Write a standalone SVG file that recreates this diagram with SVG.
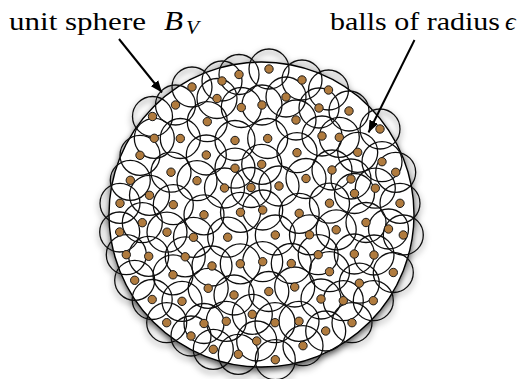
<svg xmlns="http://www.w3.org/2000/svg" width="521" height="379" viewBox="0 0 521 379">
<defs>
<filter id="sh" x="-15%" y="-15%" width="130%" height="130%">
<feGaussianBlur in="SourceAlpha" stdDeviation="3"/>
<feOffset dx="0" dy="3" result="b"/>
<feFlood flood-color="#000" flood-opacity="0.7"/>
<feComposite in2="b" operator="in" result="s"/>
<feMerge><feMergeNode in="s"/><feMergeNode in="SourceGraphic"/></feMerge>
</filter>
<marker id="ah" viewBox="0 0 10 8" refX="10" refY="4" markerWidth="6" markerHeight="5" markerUnits="strokeWidth" orient="auto">
<path d="M0,0 L10,4 L0,8 z" fill="#000"/>
</marker>
</defs>
<style>
text{font-family:"Liberation Serif","Times New Roman","DejaVu Serif",serif;fill:#000}
.lbl{font-size:26px}
.it{font-style:italic}
.ball{fill:none;stroke:#111;stroke-width:1.3}
.dot{fill:#b07b3e;stroke:#1a1a1a;stroke-width:1}
.arr{stroke:#000;stroke-width:2;fill:none}
</style>
<g id="sphere" filter="url(#sh)">
<circle cx="261.5" cy="214.5" r="152.5" fill="#fff" stroke="#000" stroke-width="1.4"/>
<g id="balls">
<circle class="ball" cx="269" cy="69" r="20"/><circle class="ball" cx="222" cy="81" r="20"/><circle class="ball" cx="239" cy="74.5" r="20"/><circle class="ball" cx="302" cy="80" r="20"/><circle class="ball" cx="192" cy="87" r="20"/><circle class="ball" cx="328.5" cy="90" r="20"/><circle class="ball" cx="217" cy="98.5" r="20"/><circle class="ball" cx="286" cy="97" r="20"/><circle class="ball" cx="175.5" cy="105" r="20"/><circle class="ball" cx="241.3" cy="107.5" r="20"/>
<circle class="ball" cx="262" cy="105" r="20"/><circle class="ball" cx="319" cy="108" r="20"/><circle class="ball" cx="349" cy="111" r="20"/><circle class="ball" cx="152.5" cy="116.5" r="20"/><circle class="ball" cx="207.3" cy="121.7" r="20"/><circle class="ball" cx="296" cy="120" r="20"/><circle class="ball" cx="380" cy="129" r="20"/><circle class="ball" cx="154.3" cy="138.3" r="20"/><circle class="ball" cx="180.3" cy="138.5" r="20"/><circle class="ball" cx="235" cy="140.5" r="20"/>
<circle class="ball" cx="267.7" cy="138.5" r="20"/><circle class="ball" cx="322" cy="136" r="20"/><circle class="ball" cx="339.3" cy="137.3" r="20"/><circle class="ball" cx="140" cy="155.3" r="20"/><circle class="ball" cx="206.3" cy="155" r="20"/><circle class="ball" cx="297" cy="152.7" r="20"/><circle class="ball" cx="357.7" cy="152.3" r="20"/><circle class="ball" cx="171" cy="172.2" r="20"/><circle class="ball" cx="235" cy="168.2" r="20"/><circle class="ball" cx="261.7" cy="164.3" r="20"/>
<circle class="ball" cx="332" cy="170" r="20"/><circle class="ball" cx="382" cy="161.7" r="20"/><circle class="ball" cx="395.7" cy="172.3" r="20"/><circle class="ball" cx="130.3" cy="180.3" r="20"/><circle class="ball" cx="197" cy="180.7" r="20"/><circle class="ball" cx="224.5" cy="188" r="20"/><circle class="ball" cx="251" cy="187.5" r="20"/><circle class="ball" cx="279" cy="186" r="20"/><circle class="ball" cx="306" cy="178.5" r="20"/><circle class="ball" cx="351" cy="179" r="20"/>
<circle class="ball" cx="375.3" cy="188.2" r="20"/><circle class="ball" cx="354.5" cy="193.5" r="20"/><circle class="ball" cx="149.5" cy="195.3" r="20"/><circle class="ball" cx="120" cy="203.3" r="20"/><circle class="ball" cx="173.3" cy="204.7" r="20"/><circle class="ball" cx="329.5" cy="203.2" r="20"/><circle class="ball" cx="400" cy="203.3" r="20"/><circle class="ball" cx="204" cy="214.8" r="20"/><circle class="ball" cx="240.5" cy="212.3" r="20"/><circle class="ball" cx="262.7" cy="210" r="20"/>
<circle class="ball" cx="299.2" cy="213.3" r="20"/><circle class="ball" cx="142.3" cy="222.7" r="20"/><circle class="ball" cx="366" cy="222.5" r="20"/><circle class="ball" cx="119.7" cy="232" r="20"/><circle class="ball" cx="167" cy="232.2" r="20"/><circle class="ball" cx="193.5" cy="237.3" r="20"/><circle class="ball" cx="227.7" cy="237.2" r="20"/><circle class="ball" cx="275.3" cy="235" r="20"/><circle class="ball" cx="309.5" cy="234.8" r="20"/><circle class="ball" cx="336.2" cy="229.8" r="20"/>
<circle class="ball" cx="388.5" cy="229" r="20"/><circle class="ball" cx="403.3" cy="235" r="20"/><circle class="ball" cx="126.3" cy="254.7" r="20"/><circle class="ball" cx="148.7" cy="256.3" r="20"/><circle class="ball" cx="185.2" cy="256.8" r="20"/><circle class="ball" cx="240.3" cy="263.8" r="20"/><circle class="ball" cx="262.7" cy="261.7" r="20"/><circle class="ball" cx="291.3" cy="263.5" r="20"/><circle class="ball" cx="318.2" cy="254.7" r="20"/><circle class="ball" cx="354.3" cy="254" r="20"/>
<circle class="ball" cx="374" cy="255" r="20"/><circle class="ball" cx="212" cy="266" r="20"/><circle class="ball" cx="173" cy="274.8" r="20"/><circle class="ball" cx="329.5" cy="271.7" r="20"/><circle class="ball" cx="393.3" cy="272.5" r="20"/><circle class="ball" cx="134.7" cy="280.3" r="20"/><circle class="ball" cx="208.2" cy="288.3" r="20"/><circle class="ball" cx="234" cy="295" r="20"/><circle class="ball" cx="268.8" cy="291.5" r="20"/><circle class="ball" cx="294.7" cy="287" r="20"/>
<circle class="ball" cx="359.3" cy="283.2" r="20"/><circle class="ball" cx="152.2" cy="299.5" r="20"/><circle class="ball" cx="182" cy="301.3" r="20"/><circle class="ball" cx="321" cy="299" r="20"/><circle class="ball" cx="343.3" cy="300.7" r="20"/><circle class="ball" cx="373.3" cy="300.7" r="20"/><circle class="ball" cx="252.3" cy="314.3" r="20"/><circle class="ball" cx="226.3" cy="321.3" r="20"/><circle class="ball" cx="204" cy="323.5" r="20"/><circle class="ball" cx="166.7" cy="322.7" r="20"/>
<circle class="ball" cx="275" cy="322.7" r="20"/><circle class="ball" cx="299" cy="321.3" r="20"/><circle class="ball" cx="352" cy="322.7" r="20"/><circle class="ball" cx="191" cy="336" r="20"/><circle class="ball" cx="256.7" cy="341" r="20"/><circle class="ball" cx="325.7" cy="331" r="20"/><circle class="ball" cx="213.3" cy="349.3" r="20"/><circle class="ball" cx="238.3" cy="354.3" r="20"/><circle class="ball" cx="303" cy="345.7" r="20"/><circle class="ball" cx="275.3" cy="359.7" r="20"/>
</g>
</g>
<g id="centers">
<circle class="dot" cx="269" cy="69" r="4.2"/><circle class="dot" cx="222" cy="81" r="4.2"/><circle class="dot" cx="239" cy="74.5" r="4.2"/><circle class="dot" cx="302" cy="80" r="4.2"/><circle class="dot" cx="192" cy="87" r="4.2"/><circle class="dot" cx="328.5" cy="90" r="4.2"/><circle class="dot" cx="217" cy="98.5" r="4.2"/><circle class="dot" cx="286" cy="97" r="4.2"/><circle class="dot" cx="175.5" cy="105" r="4.2"/><circle class="dot" cx="241.3" cy="107.5" r="4.2"/>
<circle class="dot" cx="262" cy="105" r="4.2"/><circle class="dot" cx="319" cy="108" r="4.2"/><circle class="dot" cx="349" cy="111" r="4.2"/><circle class="dot" cx="152.5" cy="116.5" r="4.2"/><circle class="dot" cx="207.3" cy="121.7" r="4.2"/><circle class="dot" cx="296" cy="120" r="4.2"/><circle class="dot" cx="380" cy="129" r="4.2"/><circle class="dot" cx="154.3" cy="138.3" r="4.2"/><circle class="dot" cx="180.3" cy="138.5" r="4.2"/><circle class="dot" cx="235" cy="140.5" r="4.2"/>
<circle class="dot" cx="267.7" cy="138.5" r="4.2"/><circle class="dot" cx="322" cy="136" r="4.2"/><circle class="dot" cx="339.3" cy="137.3" r="4.2"/><circle class="dot" cx="140" cy="155.3" r="4.2"/><circle class="dot" cx="206.3" cy="155" r="4.2"/><circle class="dot" cx="297" cy="152.7" r="4.2"/><circle class="dot" cx="357.7" cy="152.3" r="4.2"/><circle class="dot" cx="171" cy="172.2" r="4.2"/><circle class="dot" cx="235" cy="168.2" r="4.2"/><circle class="dot" cx="261.7" cy="164.3" r="4.2"/>
<circle class="dot" cx="332" cy="170" r="4.2"/><circle class="dot" cx="382" cy="161.7" r="4.2"/><circle class="dot" cx="395.7" cy="172.3" r="4.2"/><circle class="dot" cx="130.3" cy="180.3" r="4.2"/><circle class="dot" cx="197" cy="180.7" r="4.2"/><circle class="dot" cx="224.5" cy="188" r="4.2"/><circle class="dot" cx="251" cy="187.5" r="4.2"/><circle class="dot" cx="279" cy="186" r="4.2"/><circle class="dot" cx="306" cy="178.5" r="4.2"/><circle class="dot" cx="351" cy="179" r="4.2"/>
<circle class="dot" cx="375.3" cy="188.2" r="4.2"/><circle class="dot" cx="354.5" cy="193.5" r="4.2"/><circle class="dot" cx="149.5" cy="195.3" r="4.2"/><circle class="dot" cx="120" cy="203.3" r="4.2"/><circle class="dot" cx="173.3" cy="204.7" r="4.2"/><circle class="dot" cx="329.5" cy="203.2" r="4.2"/><circle class="dot" cx="400" cy="203.3" r="4.2"/><circle class="dot" cx="204" cy="214.8" r="4.2"/><circle class="dot" cx="240.5" cy="212.3" r="4.2"/><circle class="dot" cx="262.7" cy="210" r="4.2"/>
<circle class="dot" cx="299.2" cy="213.3" r="4.2"/><circle class="dot" cx="142.3" cy="222.7" r="4.2"/><circle class="dot" cx="366" cy="222.5" r="4.2"/><circle class="dot" cx="119.7" cy="232" r="4.2"/><circle class="dot" cx="167" cy="232.2" r="4.2"/><circle class="dot" cx="193.5" cy="237.3" r="4.2"/><circle class="dot" cx="227.7" cy="237.2" r="4.2"/><circle class="dot" cx="275.3" cy="235" r="4.2"/><circle class="dot" cx="309.5" cy="234.8" r="4.2"/><circle class="dot" cx="336.2" cy="229.8" r="4.2"/>
<circle class="dot" cx="388.5" cy="229" r="4.2"/><circle class="dot" cx="403.3" cy="235" r="4.2"/><circle class="dot" cx="126.3" cy="254.7" r="4.2"/><circle class="dot" cx="148.7" cy="256.3" r="4.2"/><circle class="dot" cx="185.2" cy="256.8" r="4.2"/><circle class="dot" cx="240.3" cy="263.8" r="4.2"/><circle class="dot" cx="262.7" cy="261.7" r="4.2"/><circle class="dot" cx="291.3" cy="263.5" r="4.2"/><circle class="dot" cx="318.2" cy="254.7" r="4.2"/><circle class="dot" cx="354.3" cy="254" r="4.2"/>
<circle class="dot" cx="374" cy="255" r="4.2"/><circle class="dot" cx="212" cy="266" r="4.2"/><circle class="dot" cx="173" cy="274.8" r="4.2"/><circle class="dot" cx="329.5" cy="271.7" r="4.2"/><circle class="dot" cx="393.3" cy="272.5" r="4.2"/><circle class="dot" cx="134.7" cy="280.3" r="4.2"/><circle class="dot" cx="208.2" cy="288.3" r="4.2"/><circle class="dot" cx="234" cy="295" r="4.2"/><circle class="dot" cx="268.8" cy="291.5" r="4.2"/><circle class="dot" cx="294.7" cy="287" r="4.2"/>
<circle class="dot" cx="359.3" cy="283.2" r="4.2"/><circle class="dot" cx="152.2" cy="299.5" r="4.2"/><circle class="dot" cx="182" cy="301.3" r="4.2"/><circle class="dot" cx="321" cy="299" r="4.2"/><circle class="dot" cx="343.3" cy="300.7" r="4.2"/><circle class="dot" cx="373.3" cy="300.7" r="4.2"/><circle class="dot" cx="252.3" cy="314.3" r="4.2"/><circle class="dot" cx="226.3" cy="321.3" r="4.2"/><circle class="dot" cx="204" cy="323.5" r="4.2"/><circle class="dot" cx="166.7" cy="322.7" r="4.2"/>
<circle class="dot" cx="275" cy="322.7" r="4.2"/><circle class="dot" cx="299" cy="321.3" r="4.2"/><circle class="dot" cx="352" cy="322.7" r="4.2"/><circle class="dot" cx="191" cy="336" r="4.2"/><circle class="dot" cx="256.7" cy="341" r="4.2"/><circle class="dot" cx="325.7" cy="331" r="4.2"/><circle class="dot" cx="213.3" cy="349.3" r="4.2"/><circle class="dot" cx="238.3" cy="354.3" r="4.2"/><circle class="dot" cx="303" cy="345.7" r="4.2"/><circle class="dot" cx="275.3" cy="359.7" r="4.2"/>
</g>
<g id="connectors">
<line class="arr" x1="119" y1="39" x2="162" y2="92.5" marker-end="url(#ah)"/>
<line class="arr" x1="414.5" y1="40" x2="368.5" y2="132.5" marker-end="url(#ah)"/>
</g>
<g id="label-sphere">
<text class="lbl" x="9" y="30" textLength="137" lengthAdjust="spacingAndGlyphs">unit sphere</text>
<text class="lbl it" x="164" y="30" style="font-size:27px" textLength="19" lengthAdjust="spacingAndGlyphs">B</text>
<text class="it" x="186" y="34" style="font-size:18px" textLength="13" lengthAdjust="spacingAndGlyphs">V</text>
</g>
<g id="label-balls">
<text class="lbl" x="330" y="30" textLength="170" lengthAdjust="spacingAndGlyphs">balls of radius</text>
<text class="lbl it" x="505" y="30">ϵ</text>
</g>
</svg>
